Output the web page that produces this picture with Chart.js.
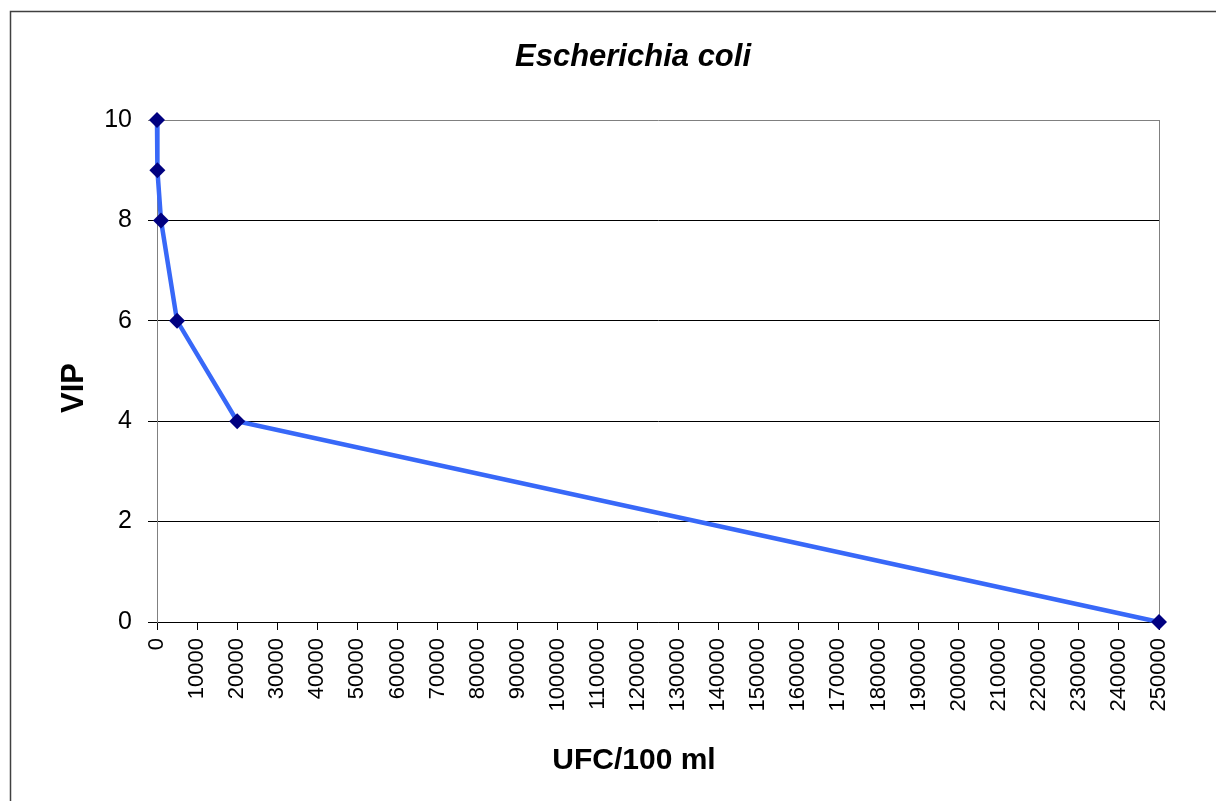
<!DOCTYPE html>
<html>
<head>
<meta charset="utf-8">
<script src="https://cdn.jsdelivr.net/npm/chart.js@4"></script>
<style>
  html, body { margin: 0; padding: 0; background: #fff; }
  #wrap { width: 1216px; height: 801px; }
</style>
</head>
<body>
<div id="wrap"><canvas id="chartCanvas" width="1216" height="801"></canvas></div>
<script>
// Datos
const ufcValues = [0, 100, 1000, 5000, 20000, 250000];
const vipValues = [10, 9, 8, 6, 4, 0];
const chartTitle = "Escherichia coli";
const xTitle = "UFC/100 ml";
const yTitle = "VIP";

// Marco exterior, fondo y títulos (colocados como en el original)
const framePlugin = {
  id: "frame",
  beforeDraw(chart) {
    const ctx = chart.ctx;
    const area = chart.chartArea;
    ctx.save();
    ctx.fillStyle = "#fff";
    ctx.fillRect(0, 0, chart.width, chart.height);
    ctx.strokeStyle = "#404040";
    ctx.lineWidth = 1.5;
    ctx.strokeRect(10.5, 11.5, chart.width + 20, chart.height + 20);
    ctx.strokeStyle = "#808080";
    ctx.lineWidth = 1;
    ctx.beginPath();
    ctx.moveTo(Math.round(area.right) + 0.5, area.top);
    ctx.lineTo(Math.round(area.right) + 0.5, area.bottom);
    ctx.stroke();
    ctx.restore();
  },
  afterDraw(chart) {
    const ctx = chart.ctx;
    ctx.save();
    ctx.fillStyle = "#000";
    ctx.textAlign = "center";
    ctx.textBaseline = "alphabetic";
    ctx.font = "italic bold 31px 'Liberation Sans'";
    ctx.fillText(chartTitle, 633, 66);
    ctx.font = "bold 30px 'Liberation Sans'";
    ctx.fillText(xTitle, 634, 769);
    ctx.translate(83, 388);
    ctx.rotate(-Math.PI / 2);
    ctx.font = "bold 31px 'Liberation Sans'";
    ctx.fillText(yTitle, 0, 0);
    ctx.restore();
  }
};

const points = ufcValues.map((x, i) => ({ x: x, y: vipValues[i] }));

const ctx = document.getElementById("chartCanvas").getContext("2d");
const chart = new Chart(ctx, {
  type: "scatter",
  data: {
    datasets: [{
      data: points,
      showLine: true,
      borderColor: "#3868f8",
      borderWidth: 4.5,
      tension: 0,
      pointStyle: "rectRot",
      pointRadius: 8,
      pointBackgroundColor: "#000080",
      pointBorderColor: "#000080",
      pointBorderWidth: 0,
      clip: false
    }]
  },
  options: {
    responsive: false,
    animation: false,
    devicePixelRatio: 1,
    layout: { padding: { left: 0, right: 57, top: 120, bottom: 0 } },
    plugins: {
      legend: { display: false },
      tooltip: { enabled: false },
      title: { display: false }
    },
    scales: {
      x: {
        type: "linear",
        min: 0,
        max: 250000,
        afterFit(scale) { scale.height = 179; },
        ticks: {
          stepSize: 10000,
          autoSkip: false,
          minRotation: 90,
          maxRotation: 90,
          padding: 8,
          color: "#000",
          font: { family: "Liberation Sans", size: 22 },
          callback: (v) => String(v)
        },
        grid: {
          drawOnChartArea: false,
          drawTicks: true,
          tickLength: 8,
          color: "#000"
        },
        border: { color: "#000", width: 1 }
      },
      y: {
        min: 0,
        max: 10,
        afterFit(scale) { scale.width = 157; },
        ticks: {
          stepSize: 2,
          padding: 16,
          color: "#000",
          font: { family: "Liberation Sans", size: 25 }
        },
        grid: {
          drawTicks: true,
          tickLength: 9,
          color: (c) => (c.tick && c.tick.value === 10 ? "#808080" : "#000"),
          lineWidth: 1
        },
        border: { color: "#808080", width: 1 }
      }
    }
  },
  plugins: [framePlugin]
});
</script>
</body>
</html>
